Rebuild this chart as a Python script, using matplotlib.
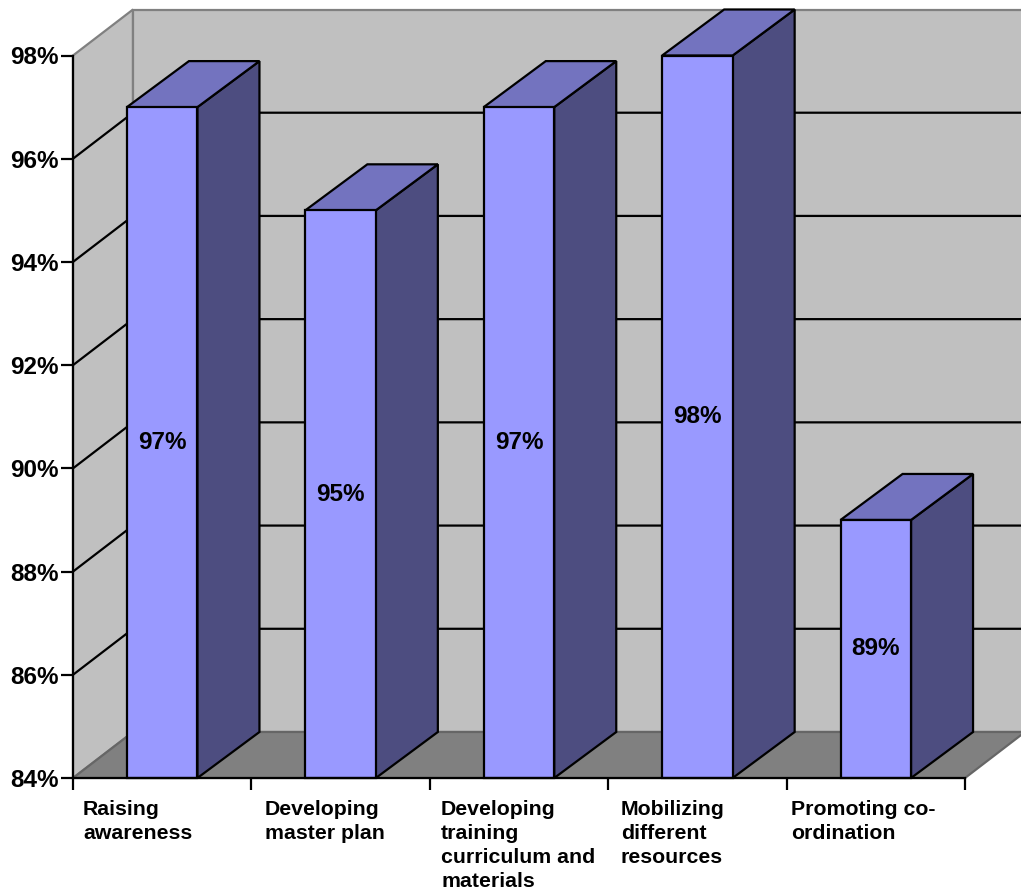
"""3D-style column chart drawn on a plain matplotlib axes."""
import matplotlib
import matplotlib.pyplot as plt
from matplotlib.patches import Polygon

matplotlib.use("Agg")

plt.rcParams["font.family"] = ["Liberation Sans", "DejaVu Sans"]
plt.rcParams["font.weight"] = "bold"

# ---------------------------------------------------------------------------
# Data
# ---------------------------------------------------------------------------
categories = [
    "Raising\nawareness",
    "Developing\nmaster plan",
    "Developing\ntraining\ncurriculum and\nmaterials",
    "Mobilizing\ndifferent\nresources",
    "Promoting co-\nordination",
]
values = [97, 95, 97, 98, 89]
y_ticks = [84, 86, 88, 90, 92, 94, 96, 98]

# ---------------------------------------------------------------------------
# Layout (pixels of the 1021x891 canvas)
# ---------------------------------------------------------------------------
W, H = 1021, 891
LEFT, RIGHT, TOP, BOTTOM = 73, 965, 55.5, 778
label_px = [83, 265, 441, 621, 791]    # left edge of each category label
LABEL_TOP = 800

fig = plt.figure(figsize=(W / 100, H / 100), dpi=100, facecolor="white")
ax = fig.add_axes([LEFT / W, 1 - BOTTOM / H, (RIGHT - LEFT) / W, (BOTTOM - TOP) / H])
ax.set_xlim(0, len(categories))
ax.set_ylim(y_ticks[0], y_ticks[-1])
ax.patch.set_visible(False)

unit_x = (RIGHT - LEFT) / len(categories)
unit_y = (BOTTOM - TOP) / (y_ticks[-1] - y_ticks[0])
WALL_DX = 60 / unit_x
WALL_DY = 46 / unit_y
BAR_DX = 62 / unit_x
BAR_DY = 46 / unit_y
BAR_W = 70.5 / unit_x

WALL = "#c0c0c0"
FLOOR = "#808080"
EDGE = "#808080"
LW = 1.6


def poly(points, face, edge="black", lw=LW, z=1):
    ax.add_patch(Polygon(points, closed=True, facecolor=face, edgecolor=edge,
                         linewidth=lw, joinstyle="miter", clip_on=False, zorder=z))


y0, y1 = y_ticks[0], y_ticks[-1]
n = len(categories)

# walls and floor
poly([(0, y0), (WALL_DX, y0 + WALL_DY), (WALL_DX, y1 + WALL_DY), (0, y1)], WALL, EDGE)
poly([(WALL_DX, y0 + WALL_DY), (n + WALL_DX, y0 + WALL_DY),
      (n + WALL_DX, y1 + WALL_DY), (WALL_DX, y1 + WALL_DY)], WALL, EDGE)
poly([(0, y0), (n, y0), (n + WALL_DX, y0 + WALL_DY), (WALL_DX, y0 + WALL_DY)],
     FLOOR, "#666666")

# gridlines run along the side wall and then the back wall
for t in y_ticks[1:-1]:
    ax.plot([0, WALL_DX, n + WALL_DX], [t, t + WALL_DY, t + WALL_DY], color="black",
            lw=LW, clip_on=False, zorder=1.5, solid_joinstyle="miter")

# columns
for i, v in enumerate(values):
    x0 = i + 0.5 - BAR_W / 2
    x1 = x0 + BAR_W
    poly([(x1, y0), (x1 + BAR_DX, y0 + BAR_DY), (x1 + BAR_DX, v + BAR_DY), (x1, v)],
         "#4d4d80", z=3)
    poly([(x0, v), (x1, v), (x1 + BAR_DX, v + BAR_DY), (x0 + BAR_DX, v + BAR_DY)],
         "#7373bf", z=3)
    poly([(x0, y0), (x1, y0), (x1, v), (x0, v)], "#9999ff", z=3.1)
    ax.text(i + 0.5, (y0 + v) / 2, f"{v}%", ha="center", va="center",
            fontsize=17.5, fontweight="bold", color="black", zorder=4)

# axes
for side in ("top", "right"):
    ax.spines[side].set_visible(False)
for side in ("left", "bottom"):
    ax.spines[side].set_linewidth(LW)
    ax.spines[side].set_zorder(3.5)
ax.set_xticks(range(n + 1))
ax.set_xticklabels([])
ax.set_yticks(y_ticks)
ax.set_yticklabels([f"{t}%" for t in y_ticks], fontsize=17.5, fontweight="bold")
ax.tick_params(axis="x", length=8.6, width=LW)
ax.tick_params(axis="y", length=9, width=LW, pad=1)

# category labels are left aligned at their own offsets
for label, px in zip(categories, label_px):
    fig.text(px / W, 1 - LABEL_TOP / H, label, ha="left", va="top", fontsize=15.3,
             fontweight="bold", linespacing=1.33)

fig.savefig("out.png", dpi=100, facecolor="white")
